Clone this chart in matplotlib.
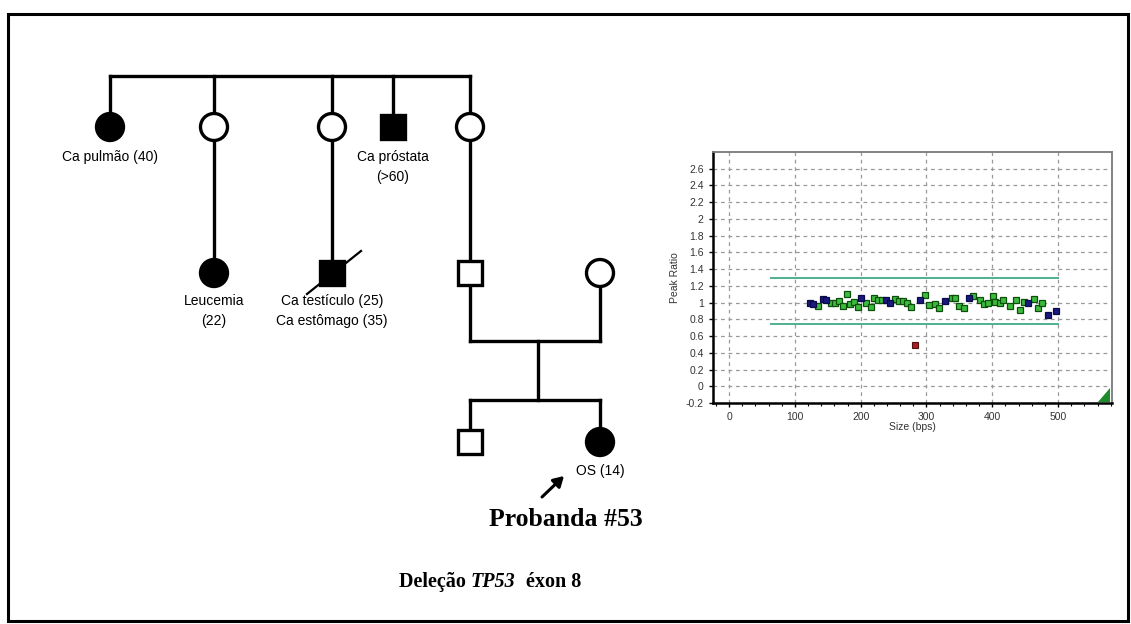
import matplotlib
matplotlib.use("Agg")
import matplotlib.pyplot as plt
from matplotlib.patches import Circle, Rectangle, Polygon
import numpy as np

# ---------------- data (MLPA peak ratios) ----------------
green_size = [135.5, 154.8, 160.9, 167.5, 173.6, 178.7, 183.7, 189.8, 195.4, 208, 215.7,
              220.7, 225.9, 232, 252.2, 258.3, 263.9, 270, 276, 297.9, 304.4, 313.6,
              319.6, 338.5, 343.5, 350, 357, 371, 381.6, 388, 394, 401.6, 404, 411, 417,
              427, 436, 442, 448.5, 463, 469, 475.5]
green_ratio = [0.96, 1.0, 1.0, 1.02, 0.96, 1.10, 0.98, 1.01, 0.95, 1.0, 0.95,
               1.05, 1.03, 1.03, 1.04, 1.02, 1.02, 1.0, 0.95, 1.09, 0.97, 0.98,
               0.93, 1.06, 1.06, 0.96, 0.93, 1.08, 1.03, 0.98, 1.0, 1.08, 1.01, 1.0, 1.03,
               0.96, 1.03, 0.91, 1.01, 1.04, 0.94, 0.99]
blue_size = [122.6, 127.9, 142, 146.7, 200.9, 238.5, 244.6, 290.3, 328.8, 365, 455, 484.6, 496.8]
blue_ratio = [1.0, 0.98, 1.04, 1.03, 1.06, 1.03, 1.0, 1.03, 1.02, 1.06, 1.0, 0.85, 0.90]
red_size = [282.6]
red_ratio = [0.49]
upper_limit = 1.3
lower_limit = 0.75
limit_range = [63, 500]
x_ticks = [0, 100, 200, 300, 400, 500]
y_ticks = [-0.2, 0, 0.2, 0.4, 0.6, 0.8, 1, 1.2, 1.4, 1.6, 1.8, 2, 2.2, 2.4, 2.6]

# ---------------- pedigree content ----------------
gen2_x = [110, 214, 332, 393, 470]
gen2_sex = ["f", "f", "f", "m", "f"]
gen2_aff = [True, False, False, True, False]
gen2_labels = [("Ca pulmão (40)", 110), ("Ca próstata\n(>60)", 393)]
gen3_labels = [("Leucemia\n(22)", 214), ("Ca testículo (25)\nCa estômago (35)", 332)]

W, H = 1131, 624
fig = plt.figure(figsize=(W / 100, H / 100), dpi=100)
fig.patch.set_facecolor("white")

# canvas axes in pixel coordinates
cv = fig.add_axes([0, 0, 1, 1])
cv.set_xlim(0, W)
cv.set_ylim(H, 0)
cv.axis("off")

LW = 2.4
SANS = "Liberation Sans"
SERIF = "Liberation Serif"
R = 13.5
S = 24

def sym(x, y, sex, aff):
    fc = "black" if aff else "white"
    if sex == "f":
        cv.add_patch(Circle((x, y), R, facecolor=fc, edgecolor="black", lw=LW, zorder=3))
    else:
        cv.add_patch(Rectangle((x - S / 2, y - S / 2), S, S, facecolor=fc,
                               edgecolor="black", lw=LW, zorder=3))

def line(xs, ys):
    cv.plot(xs, ys, color="black", lw=LW, solid_capstyle="projecting", zorder=2)

# outer border
cv.add_patch(Rectangle((8, 14), W - 8 - 3, H - 14 - 3, facecolor="none",
                       edgecolor="black", lw=2.2))

# generation II
y_sib = 76
y2 = 127
line([gen2_x[0], gen2_x[-1]], [y_sib, y_sib])
for x, s, a in zip(gen2_x, gen2_sex, gen2_aff):
    line([x, x], [y_sib, y2])
    sym(x, y2, s, a)
for t, x in gen2_labels:
    cv.text(x, 150, t, ha="center", va="top", fontsize=10, family=SANS, linespacing=1.55)

# generation III
y3 = 273
line([214, 214], [y2, y3]); sym(214, y3, "f", True)
line([332, 332], [y2, y3]); sym(332, y3, "m", True)
cv.plot([307, 361], [294, 251], color="black", lw=1.6, zorder=4)
line([470, 470], [y2, y3]); sym(470, y3, "m", False)
sym(600, y3, "f", False)
for t, x in gen3_labels:
    cv.text(x, 294, t, ha="center", va="top", fontsize=10, family=SANS, linespacing=1.55)

# marriage + generation IV
y_mar = 341
line([470, 470], [y3, y_mar])
line([600, 600], [y3 + R, y_mar])
line([470, 600], [y_mar, y_mar])
line([538, 538], [y_mar, 400])
line([470, 600], [400, 400])
y4 = 442
line([470, 470], [400, y4]); sym(470, y4, "m", False)
line([600, 600], [400, y4]); sym(600, y4, "f", True)
cv.text(600, 464, "OS (14)", ha="center", va="top", fontsize=10, family=SANS)
cv.annotate("", xy=(564, 476), xytext=(542, 497),
            arrowprops=dict(arrowstyle="-|>,head_length=0.6,head_width=0.35",
                            color="black", lw=2.2, shrinkA=0, shrinkB=0))
cv.text(566, 520, "Probanda #53", ha="center", va="center", fontsize=18.5,
        family=SERIF, fontweight="bold")

# title with italic gene name, centred as a whole
renderer = fig.canvas.get_renderer()
parts = [("Deleção ", "normal"), ("TP53", "italic"), ("  éxon 8", "normal")]
ty = 582
texts = []
for txt, style in parts:
    t = cv.text(0, ty, txt, ha="left", va="center", fontsize=14.5, family=SERIF,
                fontweight="bold", fontstyle=style)
    texts.append(t)
widths = [t.get_window_extent(renderer=renderer).width for t in texts]
tx = 490 - sum(widths) / 2
for t, w in zip(texts, widths):
    t.set_x(tx)
    tx += w

# ---------------- MLPA ratio chart ----------------
L, Rr, T, B = 712.7, 1112, 152, 403
ax = fig.add_axes([L / W, 1 - B / H, (Rr - L) / W, (B - T) / H])
ax.set_xlim(-25, 582)
ax.set_ylim(-0.2, 2.8)
ax.set_xticks(x_ticks)
ax.set_xticks(np.arange(-20, 581, 20), minor=True)
ax.set_yticks(y_ticks)
ax.set_yticklabels([f"{v:g}" for v in y_ticks])
ax.grid(True, which="major", color="#9a9a9a", linestyle=(0, (3, 3)), lw=0.9)
ax.tick_params(axis="both", which="major", labelsize=7.5, length=3, width=1, colors="black",
               labelcolor="#333333")
ax.tick_params(axis="x", which="minor", length=2, width=0.8)
for lab in ax.get_xticklabels() + ax.get_yticklabels():
    lab.set_family(SANS)
ax.spines["left"].set_linewidth(1.8)
ax.spines["bottom"].set_linewidth(1.8)
ax.spines["top"].set_color("#7a7a7a")
ax.spines["right"].set_color("#7a7a7a")
ax.spines["top"].set_linewidth(1.3)
ax.spines["right"].set_linewidth(1.3)
ax.set_ylabel("Peak Ratio", fontsize=7.5, family=SANS, color="#333333", labelpad=4)
ax.set_xlabel("Size (bps)", fontsize=7.5, family=SANS, color="#333333", labelpad=0)

ax.plot(limit_range, [upper_limit, upper_limit], color="#4fb08c", lw=1.4, zorder=3)
ax.plot(limit_range, [lower_limit, lower_limit], color="#4fb08c", lw=1.4, zorder=3)
ax.plot(green_size, green_ratio, "s", ms=4.3, mfc="#3dbb3d", mec="#0b4f0b", mew=0.9, zorder=4)
ax.plot(blue_size, blue_ratio, "s", ms=4.3, mfc="#1a1a7c", mec="#0a0a4a", mew=0.9, zorder=4)
ax.plot(red_size, red_ratio, "s", ms=4.0, mfc="#a32222", mec="#5a0d0d", mew=0.8, zorder=4)
ax.add_patch(Polygon([[0.965, 0.005], [0.995, 0.005], [0.995, 0.06]], closed=True,
                     transform=ax.transAxes, facecolor="#1e8a2a", edgecolor="none", zorder=5))

fig.savefig("out.png", dpi=100)
